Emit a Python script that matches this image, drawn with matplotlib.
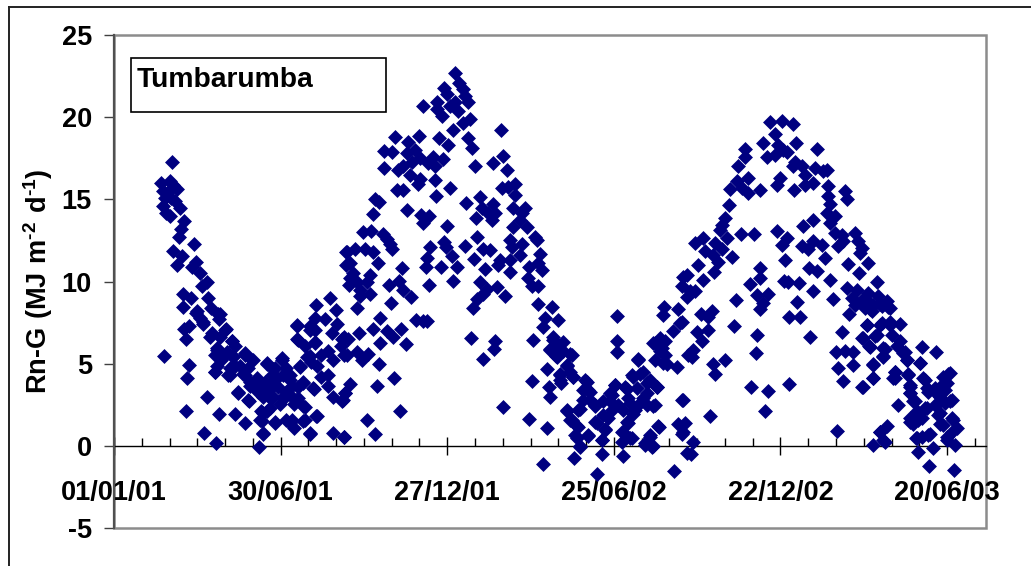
import matplotlib
matplotlib.use("Agg")
import matplotlib.pyplot as plt
from matplotlib.lines import Line2D
from matplotlib.patches import Rectangle
from matplotlib.ticker import MultipleLocator

plt.rcParams['font.family'] = ['Liberation Sans', 'DejaVu Sans']
plt.rcParams['mathtext.fontset'] = 'custom'
plt.rcParams['mathtext.bf'] = 'Liberation Sans:bold'
plt.rcParams['mathtext.rm'] = 'Liberation Sans:bold'

# (days since 01/01/01, Rn-G in MJ m-2 d-1)
obs_2001_first = [(62.6,17.3),(51,16.0),(61,16.1),(68,15.6),(64,15.85),(53,15.5),(59,15.5),(55,15.1),(62,15.1),(66,14.9),(53,14.6),(71,14.5),(56,14.15),(61,14.0),(76,13.7),(72,13.2),(70,12.7),(86,12.3),(64,11.85),(73,11.55),(68,11.0),(89,11.2),(84,10.9),(93,10.5),(101,10.0),(95,9.7),(74,9.25),(83,9.0),(102,9.0),(75,8.45),(105,8.4),(90,8.2),(114,8.05),(93,7.8),(113,7.7),(81,7.3),(76,7.1),(96,7.4),(121,7.1),(78,6.5),(104,6.6),(114,6.6),(127,6.4),(111,5.95),(131,6.05),(122,5.7),(54,5.45),(141,5.5),(150,5.25),(109,5.5),(116,5.2),(129,5.4),(81,4.9),(111,4.85),(125,4.75),(109,4.5),(136,4.85),(145,4.75),(125,4.3),(79,4.15),(141,4.3),(154,4.1),(134,3.2),(147,3.65),(152,3.55),(146,2.75),(161,3.65),(100,2.95),(78,2.15),(113,1.95),(131,1.95),(141,1.4),(97,0.8),(110,0.2),(157,-0.1),(161,0.8),(158,1.55),(165,2.1),(169,2.3),(159,2.1),(165,5.0),(181,5.35),(174,1.45),(186,1.55),(194,1.1),(192,1.55),(212,0.8),(206,1.55),(219,1.8),(206,2.35),(199,2.9),(194,2.55),(186,3.3),(179,2.55),(172,3),(183,3),(176,4.1),(168,3.75),(183,4.3),(190,4.3),(192,3.65),(199,3.55),(161,3),(167,3.4),(174,4.75),(172,4.65),(186,4.75),(204,3.85),(216,3.45),(201,4.85),(208,5.4),(198,6.5),(198,7.3),(218,8.6),(233,9),(240,8.25),(241,7.4),(228,7.7),(217,7.8),(212,7.3),(217,7.05),(235,6.85),(206,6.05),(217,6.3),(248,6.6),(245,6.05),(224,5.5),(213,5.1),(231,5.75),(237,5.2),(248,5.5),(224,4.2),(231,4.3),(231,3.65),(237,3),(246,2.75),(250,3.2),(237,0.8),(248,0.55),(251,11.8),(251,11),(255,10.2),(254,9.8)]

obs_trough_2001 = [(89,8.1),(96.5,7.55),(112.7,8),(105.5,6.85),(119.9,7.05),(127,6.35),(110.9,5.85),(116.3,5.35),(128.9,5.45),(141.5,5.65),(148.7,5.25),(109.1,4.5),(123.5,4.3),(139.7,4.4),(130.7,4.85),(134.3,3.3),(146.9,3.9),(145.1,2.8),(155.9,3.3),(164.9,5.05),(181.1,5.25),(170.3,4.3),(163.1,3.9),(177.5,3.6),(190,4),(168.5,2.9),(161.3,2),(184.7,3),(193.7,2.9),(204.5,2.4),(173.9,1.4),(190.1,1.4),(204.5,1.5),(161.3,0.75),(159.5,1.5),(200.9,4.8),(204.5,3.9),(215.3,3.5),(197.3,7.35),(199.1,6.45),(211.7,7.05),(217.1,6.25),(211.7,5.45),(218.9,4.85),(218.2,1.8),(211.7,0.75)]

obs_summer_2001 = [(368.8,22.7),(356.5,21.8),(373,22.05),(377.4,21.7),(359.4,21.4),(379.2,21.3),(382.8,20.9),(368.4,20.9),(348.6,20.9),(333.5,20.7),(363,20.7),(348.6,20.5),(354,20.1),(372,20.35),(384.6,19.9),(377.4,19.65),(366.6,19.2),(417.7,19.2),(382.8,18.75),(387.1,18.1),(350.8,18.75),(303.6,18.8),(329.5,18.85),(318,18.5),(360.5,18.3),(291.7,17.95),(300,17.9),(420.6,17.65),(325.2,18),(316.2,17.8),(355.8,17.45),(345,17.6),(330.6,17.5),(409.1,17.2),(390,17.05),(291.7,16.9),(307.2,16.8),(312.6,17.05),(321.6,17.25),(339.6,17.2),(346.8,17.05),(424.2,16.8),(319.8,16.5),(346.8,16.2),(330.6,16.25),(328.8,15.95),(433.2,15.95),(363,15.7),(305.4,15.55),(312.6,15.55),(418.8,15.7),(426,15.75),(433.2,15.25),(347.5,15.2),(395.4,15.15),(282,15.05),(286.7,14.85),(380.3,14.8),(397.2,14.5),(431.4,14.5),(444,14.5),(409.1,14.7),(316.2,14.35),(411.6,14.15),(440.4,14.15),(280.2,14.1),(331.7,14.05),(340.7,14),(404.4,14.15),(391.1,13.85),(408,13.75),(438.6,13.75),(334.2,13.55),(359.4,13.4),(430.7,13.3),(445.8,13.3),(268.7,13),(277.3,13.1),(290.3,12.9),(294.6,12.6),(391.8,12.7),(454.8,12.7),(427.8,12.5),(298.2,12.3),(356.5,12.4),(456.6,12.5),(440.4,12.3),(341.4,12.1),(379.2,12.15),(300,12),(399,12),(406.2,11.9),(429.6,12.1),(358.7,12.1),(251.4,11.8),(260.4,11.95),(271.2,11.95),(280.2,11.8),(438.6,11.6),(460.2,11.7),(337.8,11.4),(364.8,11.55),(389.3,11.35),(417,11.3),(427.8,11.3),(285.6,11.15),(255,11.1),(458.4,11.1),(337.1,10.9),(352.9,10.9),(370.9,10.9),(415.2,11),(400.8,10.75),(310.8,10.8),(448.7,10.9),(462,10.7),(427.8,10.6),(258.6,10.5),(276.6,10.4),(447.6,10.2),(365.9,10.05),(308.3,10.05),(340.7,9.8),(297.5,9.8),(262.2,10),(273,10),(451.2,9.7),(458.4,9.7),(395.4,10),(312.6,9.5),(402.6,9.55),(414.1,9.65),(265.8,9.5),(276.6,9.25),(399,9.25),(320.5,9.05),(422.8,9.1),(265.8,9.1),(298.9,8.7),(391.8,8.95),(458.4,8.65),(472.8,8.45),(388.2,8.4),(262.2,8.4)]

obs_winter_2002 = [(287.4,7.75),(326.3,7.65),(337.8,7.6),(334.2,7.6),(465.6,7.8),(480,7.65),(543,7.9),(463.8,7.25),(279.5,7.1),(294.6,7),(265.1,6.85),(309.7,7.1),(301.8,6.65),(385.3,6.55),(474.6,6.65),(485.4,6.3),(453,6.45),(411.6,6.4),(287.4,6.25),(315.1,6.2),(253.2,6.5),(246,6.5),(543.7,6.35),(410.5,5.9),(471,5.9),(492.6,5.6),(543.7,5.7),(478.2,6),(274.8,5.6),(262.2,5.7),(251.4,5.5),(478.2,5.4),(267.6,5.2),(398.3,5.3),(286.3,4.95),(467.4,4.7),(489,4.9),(481.8,4.3),(302.5,4.15),(451.2,3.95),(492.6,4.5),(496.2,4.2),(482.5,3.8),(508.8,4),(283.8,3.65),(255,3.75),(470.3,3.6),(249.6,3.2),(471,2.95),(512.4,3.4),(541.2,3.7),(514.2,2.8),(519.6,2.45),(537.6,3.1),(247.8,2.8),(419.9,2.35),(309,2.1),(489,2.15),(503.4,2.25),(273,1.55),(448.7,1.65),(467.4,1.1),(492.6,1.55),(282,0.75),(248.5,0.55),(501.6,1.15),(528.6,1.85),(519.6,1.45),(512.4,0.65),(530.4,0.95),(535.8,2.7),(499.8,0.45),(526.8,0.35),(503.4,-0.05),(526.8,-0.5),(496.9,-0.75),(463.8,-1.1),(522.1,-1.7),(549.5,-0.6),(604.9,-1.55),(548.4,0.25),(557.4,0.45),(550.2,0.85),(553.8,1.45),(580.8,-0.05),(573.6,0.15),(579,0.55),(589,1.15),(609.6,1.35),(615,0.85),(618.6,-0.45),(613.2,2.8),(552,3.6),(544.8,2.5),(557.4,2.6),(561,1.95),(568.2,2.6),(584.4,2.5),(586.2,3.55),(575.4,3.2),(561,4.2),(571.8,4.5),(579,4),(566.4,5.2),(607.8,4.8),(597,5),(589.8,5.8),(582.6,6.25),(620.4,5.5),(595.2,6.4),(604.2,7),(611.4,7.45),(593.4,7.95),(609.6,8.35),(618.6,9.05),(615,10.3),(594,8.45)]

obs_trough_2002 = [(474.6,6.45),(480,6.15),(471,5.85),(485.4,5.75),(478,5.45),(494.4,5.55),(489,4.85),(481.8,4.4),(481.8,4),(496.2,4.2),(510.6,3.9),(507,3.4),(514,3.3),(507,2.8),(519.6,2.5),(501.6,2.2),(489,2.2),(494.4,1.6),(499.8,1.2),(498,0.65),(503.4,0),(512.4,0.6),(521.4,1.4),(530.4,1),(526.8,0.35),(534,1.7),(537.6,2.2),(528.6,2.7),(541.2,3.7),(535.8,3.2),(548.4,0.85),(555.6,1.4),(559.2,0.45),(550.2,2.2),(555.6,2.9),(562.8,2.2),(554.5,3.45),(559.2,4.3),(568.2,4.4),(575.4,3.8),(586.2,3.55),(564.6,3.5),(571.8,2.9),(582.6,2.45),(575.4,2.5),(566.4,5.3),(579,0.65),(588,1.2),(582.6,0),(573.6,0.05),(584.4,6.25),(591.6,5.95),(584.4,5.25),(593.4,5.05),(589.8,6.55),(595.2,5.55)]

obs_summer_2002 = [(708.7,19.7),(721.3,19.75),(733.9,19.6),(714.1,19),(759.8,18.05),(736.8,18.4),(700.8,18.4),(682,18.05),(717.7,18.3),(705.1,17.6),(723.1,18),(714.1,17.7),(726.7,17.9),(735.7,17.3),(681.7,17.6),(674.5,17),(733.9,17),(742.9,17),(757.3,16.9),(766.3,16.7),(769.9,16.8),(746.5,16.5),(719.5,16.3),(685.3,16.3),(672.7,16.1),(755.5,16),(715.9,15.9),(746.5,15.9),(771.7,15.8),(665.5,15.6),(678.1,15.7),(697.9,15.55),(685.3,15.4),(735,15.55),(789.7,15.5),(771.7,15.2),(791.5,15.05),(773.5,14.7),(664.8,14.65),(769.9,14.15),(778.9,14),(660.1,13.85),(755.5,13.75),(656.5,13.45),(744.7,13.35),(773.5,13.55),(654.7,13.15),(715.9,13.05),(677.4,12.9),(691.4,12.9),(800.5,12.95),(778.9,12.95),(661.9,12.65),(636.7,12.65),(726.7,12.65),(786.1,12.85),(627.7,12.35),(804.1,12.45),(755.5,12.45),(721.3,12.25),(649.3,12.35),(742.9,12.15),(764.5,12.25),(782.5,12.15),(807.7,12.05),(750.1,12),(787.9,12.45),(638.5,11.85),(656.5,11.95),(805.9,11.75),(667.3,11.5),(768.1,11.4),(647.5,11.6),(724.9,11.3),(793.3,11.05),(814.2,11.1),(652.9,11.2),(631.3,11),(697.9,10.8),(751.2,10.8),(759.1,10.65),(648.2,10.55),(805.2,10.5),(618.7,10.4)]

obs_autumn_2003 = [(697.9,10.2),(773.5,10.1),(636,10.1),(823.9,10),(723.8,10.05),(728.5,10),(740.4,9.9),(687.1,9.85),(613.3,9.7),(791.5,9.6),(802.3,9.5),(622.3,9.45),(755.5,9.4),(706.9,9.25),(814.9,9.3),(695,9.2),(825.7,9.1),(796.9,9),(627.7,9.4),(672,8.9),(776.4,8.95),(807.7,8.9),(737.5,8.75),(834.7,8.8),(701.5,8.7),(800.5,8.6),(820.3,8.6),(838.3,8.4),(645.7,8.2),(697.9,8.35),(811.3,8.4),(818.5,8.2),(829.3,8.5),(633.8,8),(794.4,8),(729.6,7.85),(741.1,7.85),(642.1,7.85),(829.3,7.45),(849.1,7.4),(613.3,7.55),(670.2,7.3),(813.1,7.35),(838.3,7.35),(629.5,6.9),(642.1,7.05),(786.8,6.95),(694.3,6.75),(751.9,6.65),(823.9,6.75),(840.1,6.75),(807.7,6.55),(634.9,6.4),(849.1,6.35),(816,6.1),(872.5,6),(831.1,5.95),(845.5,6.05),(888,5.7),(625.9,5.85),(780,5.7),(789.7,5.75),(798,5.7),(693.2,5.65),(852.7,5.65),(624.1,5.4),(831.1,5.45),(660.1,5.25),(856.3,5.25),(647.5,4.95),(870.7,5.05),(819.6,4.95),(798.7,4.9),(782.5,4.75),(649.3,4.4),(843.7,4.5),(903.1,4.45),(858.1,4.4),(895.9,4.2),(843.7,4.1),(819.6,4.1),(876.1,4),(787.9,3.95),(899.5,3.8),(729.2,3.75),(688.2,3.6),(807.7,3.6),(859.9,3.7),(706.9,3.35),(886.9,3.5),(879.7,3.3),(859.9,3.2),(892.3,3),(904.9,2.8),(614.4,2.8),(847.3,2.5),(863.5,2.7),(897.7,2.6),(877.9,2.3),(886.9,2.5),(867.1,2.1),(703.3,2.1),(643.9,1.8),(890.5,1.9),(904.9,1.7),(859.9,1.7),(872.5,1.7),(863.5,1.3),(892.3,1.3),(910.3,1.1),(616.9,1.4),(834.7,1.2),(781.4,0.9),(827.5,0.85),(613.3,0.75),(904.9,0.85),(881.5,0.75),(872.5,0.55),(866.4,0.45),(831.1,0.35),(625.9,0.25),(820.3,0.05),(908.5,0.05),(899.5,0.35),(885.1,-0.15),(868.9,-0.35),(623,-0.5),(880.8,-1.2),(907.4,-1.5)]

obs_tail_2003 = [(813,8.85),(827.6,8.65),(836.6,8.45),(816.8,8.35),(813.2,7.35),(827.6,7.35),(838.4,7.55),(809.6,6.55),(822.2,6.7),(816.8,6),(833,5.9),(831,5.4),(854.6,5.7),(870.8,5.05),(856.4,5.2),(819.7,4.9),(820.4,4.1),(843.8,4.5),(842,4.1),(858.2,4.3),(901.4,4.4),(874.4,4.1),(809.6,3.55),(860,3.6),(878,3.5),(894.2,3.7),(887,3.3),(897.8,3.4),(860,3.2),(903.2,2.7),(865.4,2.7),(876.2,2.3),(890.6,2.6),(892.4,2),(865.4,1.85),(860,1.45),(869,1.55),(906.8,1.55),(896,1.25),(827.6,0.85),(833,0.25),(867.2,0.45),(879.8,0.65),(899.6,0.55)]

x_tick_days = [0, 180, 360, 540, 720, 900]
x_tick_labels = ['01/01/01', '30/06/01', '27/12/01', '25/06/02', '22/12/02', '20/06/03']
y_tick_values = [-5, 0, 5, 10, 15, 20, 25]

W, H = 1031, 566
fig = plt.figure(figsize=(W / 100, H / 100), dpi=100)
L, R, T, B = 114, 986, 35, 528
ax = fig.add_axes([L / W, 1 - B / H, (R - L) / W, (B - T) / H])

obs = (obs_2001_first + obs_trough_2001 + obs_summer_2001 + obs_winter_2002
       + obs_trough_2002 + obs_summer_2002 + obs_autumn_2003 + obs_tail_2003)
ax.scatter([p[0] for p in obs], [p[1] for p in obs], marker='D', s=58,
           color='#000080', linewidths=0, zorder=3, clip_on=False)

ax.set_xlim(0, 942)
ax.set_ylim(-5, 25)
for s in ('top', 'right', 'left'):
    ax.spines[s].set_visible(False)
ax.spines['bottom'].set_position(('data', 0))
ax.spines['bottom'].set_color('black')
ax.spines['bottom'].set_linewidth(1.0)
ax.add_patch(Rectangle((0, 0), 1, 1, transform=ax.transAxes, fill=False,
                       edgecolor='#8c8c8c', linewidth=1.8, zorder=1, clip_on=False))
fig.add_artist(Line2D([L / W, L / W], [1 - B / H, 1 - T / H], color='#505050', lw=1.6))

ax.set_xticks(x_tick_days, x_tick_labels, fontsize=19.5, fontweight='bold')
ax.xaxis.set_minor_locator(MultipleLocator(30))
ax.tick_params(axis='x', which='major', direction='inout', length=13, width=1.0, pad=18)
ax.tick_params(axis='x', which='minor', direction='in', length=6, width=1.0)
ax.set_yticks(y_tick_values)
ax.set_yticklabels([str(v) for v in y_tick_values], fontsize=19.5, fontweight='bold')
ax.tick_params(axis='y', direction='out', length=7, width=1.0, color='#404040', pad=9)

fig.text(38 / W, 1 - 281 / H, r'$\mathbf{Rn\text{-}G\ (MJ\ m^{\text{-}2}\ d^{\text{-}1})}$', rotation=90,
         fontsize=19.5, ha='center', va='center')

fig.add_artist(Rectangle((131 / W, 1 - 112 / H), 255 / W, 54 / H, transform=fig.transFigure,
                         facecolor='white', edgecolor='black', linewidth=1.2))
fig.text(137 / W, 1 - 80 / H, 'Tumbarumba', fontsize=20.3, fontweight='bold', ha='left', va='center')

fig.add_artist(Line2D([8.5 / W, 8.5 / W], [0, 1 - 6.5 / H], color='#222222', lw=1.4))
fig.add_artist(Line2D([8.5 / W, 1], [1 - 6.5 / H, 1 - 6.5 / H], color='#222222', lw=1.4))

fig.savefig('out.png', dpi=100)
